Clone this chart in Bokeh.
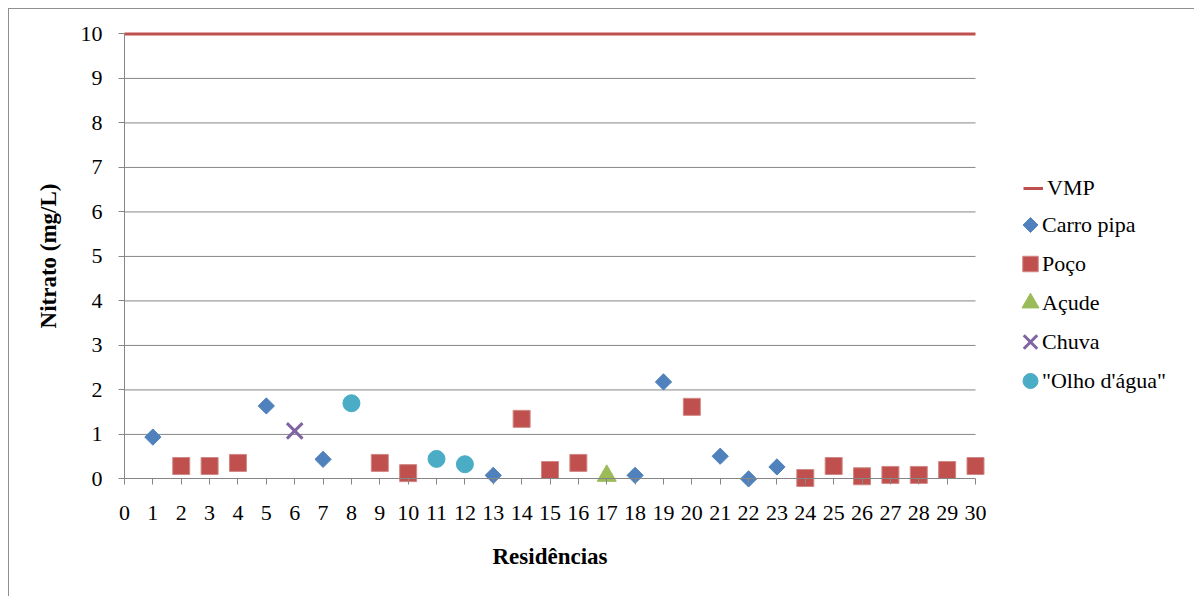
import math

from bokeh.plotting import figure
from bokeh.models import (Range1d, LinearAxis, FixedTicker, Legend, LegendItem)
from bokeh.embed import file_html
from bokeh.resources import INLINE

# --- data -------------------------------------------------------------
residencias_carro = [1, 5, 7, 13, 18, 19, 21, 22, 23]
nitrato_carro = [0.94, 1.64, 0.44, 0.08, 0.08, 2.18, 0.51, 0.00, 0.27]

residencias_poco = [2, 3, 4, 9, 10, 14, 15, 16, 20, 24, 25, 26, 27, 28, 29, 30]
nitrato_poco = [0.29, 0.29, 0.36, 0.36, 0.13, 1.35, 0.20, 0.36, 1.62,
                0.02, 0.29, 0.06, 0.09, 0.09, 0.20, 0.29]

residencias_acude = [17]
nitrato_acude = [0.07]

residencias_chuva = [6]
nitrato_chuva = [1.08]

residencias_olho = [8, 11, 12]
nitrato_olho = [1.70, 0.45, 0.33]

vmp_residencias = [0, 30]
vmp_valor = 10

x_ticks = list(range(0, 31))
y_ticks = list(range(0, 11))

# --- styling ----------------------------------------------------------
FONT = "Liberation Serif"
GRID = "#868686"
C_CARRO = "#4F81BD"
C_POCO = "#C0504D"
C_ACUDE = "#9BBB59"
C_CHUVA = "#8064A2"
C_OLHO = "#4BACC6"

# canvas and scale set-up: the frame covers the whole canvas, both axes
# are pinned at zero so their labels and the legends stay inside it
W, H = 1185, 587
X0, X1 = -4.054, 37.72
Y0, Y1 = -2.642, 10.549

p = figure(
    frame_width=W, frame_height=H,
    min_border_left=0, min_border_top=0,
    min_border_right=0, min_border_bottom=0,
    x_range=Range1d(X0, X1), y_range=Range1d(Y0, Y1),
    x_axis_type=None, y_axis_type=None,
    output_backend="svg", toolbar_location=None,
)
p.outline_line_color = None
p.background_fill_color = "white"
p.border_fill_color = "white"
p.margin = (8, 0, 0, 8)
p.stylesheets = [":host { border-left: 1px solid #8f8f8f; border-top: 1px solid #8f8f8f; }"]


def to_data(sx, sy):
    """Canvas pixel position -> data coordinates of this figure."""
    return (X0 + sx * (X1 - X0) / W, Y1 - sy * (Y1 - Y0) / H)


# horizontal gridlines between the axis bounds
grid_levels = y_ticks[1:-1]
p.segment(x0=x_ticks[0], x1=x_ticks[-1], y0=grid_levels, y1=grid_levels,
          line_color=GRID, line_width=1)

xaxis = LinearAxis(ticker=FixedTicker(ticks=x_ticks), bounds=(x_ticks[0], x_ticks[-1]),
                   fixed_location=0, axis_label="Residências")
yaxis = LinearAxis(ticker=FixedTicker(ticks=y_ticks), bounds=(y_ticks[0], y_ticks[-1]),
                   fixed_location=0, axis_label="Nitrato (mg/L)")
for ax in (xaxis, yaxis):
    ax.axis_line_color = GRID
    ax.axis_line_width = 1
    ax.major_tick_line_color = GRID
    ax.major_tick_out = 6
    ax.major_tick_in = 0
    ax.minor_tick_line_color = None
    ax.major_label_text_font = FONT
    ax.major_label_text_font_size = "22px"
    ax.major_label_text_color = "black"
    ax.axis_label_text_font = FONT
    ax.axis_label_text_font_style = "bold"
    ax.axis_label_text_font_size = "23px"
    ax.axis_label_text_color = "black"
xaxis.major_label_standoff = 21
xaxis.axis_label_standoff = 21
yaxis.major_label_standoff = 16
yaxis.axis_label_standoff = 17
p.add_layout(xaxis, "below")
p.add_layout(yaxis, "left")

# --- series -----------------------------------------------------------
r_vmp = p.line(vmp_residencias, [vmp_valor] * len(vmp_residencias),
               line_color=C_POCO, line_width=3)
r_carro = p.scatter(residencias_carro, nitrato_carro, marker="square", angle=math.pi / 4,
                    size=11.5, fill_color=C_CARRO, line_color=C_CARRO, line_width=1)
r_poco = p.scatter(residencias_poco, nitrato_poco, marker="square", size=17,
                   fill_color=C_POCO, line_color="#D08886", line_width=1)
r_acude = p.scatter(residencias_acude, nitrato_acude, marker="triangle", size=19,
                    fill_color=C_ACUDE, line_color=C_ACUDE, line_width=1)
r_chuva = p.scatter(residencias_chuva, nitrato_chuva, marker="x", size=22,
                    line_color=C_CHUVA, line_width=3)
r_olho = p.scatter(residencias_olho, nitrato_olho, marker="circle", size=17,
                   fill_color=C_OLHO, line_color=C_OLHO, line_width=1)

# --- legends ------------------------------------------------------------
common = dict(padding=0, margin=0, border_line_color=None, background_fill_alpha=0,
              label_text_font=FONT, label_text_font_size="22px",
              label_text_color="black")

LEG_TOP = 196            # top edge of the marker entries, canvas px
ROW = 39                 # row pitch of the legend entries
KEY_X = 1021             # centre of the marker keys, canvas px
TEXT_X = 1033            # left edge of the marker entry labels, canvas px

leg_line = Legend(items=[LegendItem(label="VMP", renderers=[r_vmp])],
                  location=(1014, H - (LEG_TOP - ROW + 13) - 22),
                  glyph_width=20, glyph_height=22,
                  label_height=22, label_standoff=4, **common)

# marker keys are drawn as their own glyphs (keeps the diamond rotated and
# the keys close to their labels); the legend rows only carry the text
key_styles = [
    dict(marker="square", angle=math.pi / 4, size=10.5, fill_color=C_CARRO, line_color=C_CARRO),
    dict(marker="square", size=15.5, fill_color=C_POCO, line_color="#D08886"),
    dict(marker="triangle", size=17, fill_color=C_ACUDE, line_color=C_ACUDE),
    dict(marker="x", size=19, line_color=C_CHUVA, line_width=3),
    dict(marker="circle", size=15, fill_color=C_OLHO, line_color=C_OLHO),
]
for i, style in enumerate(key_styles):
    kx, ky = to_data(KEY_X, LEG_TOP + ROW / 2 + i * ROW)
    p.scatter([kx], [ky], **style)

r_blank = p.scatter([0], [0], marker="square", size=0, fill_alpha=0, line_alpha=0)
labels = ["Carro pipa", "Poço", "Açude", "Chuva", '"Olho d\'água"']
leg_marks = Legend(items=[LegendItem(label=t, renderers=[r_blank]) for t in labels],
                   location=(TEXT_X - 23, H - LEG_TOP - len(labels) * ROW),
                   glyph_width=20, glyph_height=ROW, label_height=ROW,
                   spacing=0, label_standoff=3, **common)
p.add_layout(leg_line)
p.add_layout(leg_marks)

open("out.html", "w").write(file_html(p, INLINE))
